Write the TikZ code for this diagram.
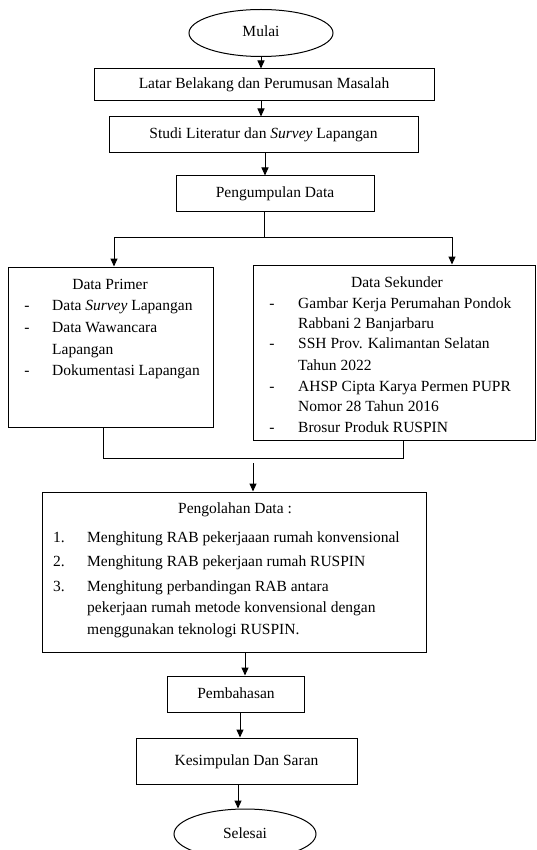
\documentclass[tikz,border=0pt]{standalone}
\usepackage{fontspec}
\setmainfont{Liberation Serif}
\usetikzlibrary{shapes.geometric,arrows.meta}
\begin{document}
\begin{tikzpicture}[x=1pt,y=-1pt,
  every node/.style={font=\fontsize{15.5}{21}\selectfont, inner sep=0pt, text height=11pt, text depth=3pt},
  box/.style={draw, line width=1pt, rectangle},
  oval/.style={draw, line width=1pt, ellipse},
  arr/.style={line width=1pt, -{Triangle[length=8pt,width=7pt]}},
  ln/.style={line width=1pt},
  txt/.style={anchor=west},
  dsh/.style={anchor=center}
]
\useasboundingbox[fill=white] (0,0) rectangle (536,850);

% main boxes
\node[oval, minimum width=144pt, minimum height=47pt] (mulai) at (261,33) {Mulai};
\node[box, minimum width=340pt, minimum height=32pt] (latar) at (264,85) {Latar Belakang dan Perumusan Masalah};
\node[box, minimum width=309pt, minimum height=36pt] (studi) at (263.5,135) {Studi Literatur dan \textit{Survey} Lapangan};
\node[box, minimum width=198pt, minimum height=36pt] (kumpul) at (275,194) {Pengumpulan Data};
\node[box, minimum width=205pt, minimum height=160pt] (primer) at (110.5,347) {};
\node[box, minimum width=282pt, minimum height=175pt] (sekunder) at (394,352.5) {};
\node[box, minimum width=384pt, minimum height=160pt] (olah) at (234,572) {};
\node[box, minimum width=137pt, minimum height=36pt] (bahas) at (236,694) {Pembahasan};
\node[box, minimum width=221pt, minimum height=46pt] (simpul) at (246.5,761) {Kesimpulan Dan Saran};
\node[oval, minimum width=142pt, minimum height=50pt] (selesai) at (245,834) {Selesai};

% Data Primer text
\node (ptitle) at (110,285) {Data Primer};
\node[dsh] (pd1) at (27,306) {-};
\node[txt] (pt1) at (52,306) {Data \textit{Survey} Lapangan};
\node[dsh] (pd2) at (27,328) {-};
\node[txt] (pt2) at (52,328) {Data Wawancara};
\node[txt] (pt2b) at (52,350) {Lapangan};
\node[dsh] (pd3) at (27,371) {-};
\node[txt] (pt3) at (52,371) {Dokumentasi Lapangan};

% Data Sekunder text
\node (stitle) at (397,283) {Data Sekunder};
\node[dsh] (sd1) at (272,304) {-};
\node[txt] (st1) at (298,304) {Gambar Kerja Perumahan Pondok};
\node[txt] (st1b) at (298,324) {Rabbani 2 Banjarbaru};
\node[dsh] (sd2) at (272,344) {-};
\node[txt] (st2) at (298,344) {SSH Prov. Kalimantan Selatan};
\node[txt] (st2b) at (298,366) {Tahun 2022};
\node[dsh] (sd3) at (272,387) {-};
\node[txt] (st3) at (298,387) {AHSP Cipta Karya Permen PUPR};
\node[txt] (st3b) at (298,407) {Nomor 28 Tahun 2016};
\node[dsh] (sd4) at (272,428) {-};
\node[txt] (st4) at (298,428) {Brosur Produk RUSPIN};

% Pengolahan Data text
\node (otitle) at (235,509) {Pengolahan Data :};
\node[txt] (on1) at (53,538) {1.};
\node[txt] (ot1) at (87,538) {Menghitung RAB pekerjaaan rumah konvensional};
\node[txt] (on2) at (53,562) {2.};
\node[txt] (ot2) at (87,562) {Menghitung RAB pekerjaan rumah RUSPIN};
\node[txt] (on3) at (53,587) {3.};
\node[txt] (ot3) at (87,587) {Menghitung perbandingan RAB antara};
\node[txt] (ot3b) at (87,608) {pekerjaan rumah metode konvensional dengan};
\node[txt] (ot3c) at (87,630) {menggunakan teknologi RUSPIN.};

% connectors
\draw[arr] (mulai.south) -- (mulai.south |- latar.north);
\draw[arr] (latar.south -| mulai.south) -- (studi.north -| mulai.south);
\coordinate (c1) at (265,0);
\draw[arr] (studi.south -| c1) -- (kumpul.north -| c1);
\coordinate (split) at (264,237);
\coordinate (lft) at (114,237);
\coordinate (rgt) at (452,237);
\draw[ln] (kumpul.south -| split) -- (split);
\draw[arr] (split) -- (lft) -- (primer.north -| lft);
\draw[arr] (split) -- (rgt) -- (sekunder.north -| rgt);
\coordinate (pj) at (103,458);
\coordinate (sj) at (403,458);
\draw[ln] (primer.south -| pj) -- (pj) -- (sj) -- (sekunder.south -| sj);
\coordinate (m1) at (253,463);
\draw[arr] (m1) -- (olah.north -| m1);
\coordinate (c2) at (245,0);
\draw[arr] (olah.south -| c2) -- (bahas.north -| c2);
\coordinate (c3) at (240,0);
\draw[arr] (bahas.south -| c3) -- (simpul.north -| c3);
\coordinate (c4) at (238,0);
\draw[arr] (simpul.south -| c4) -- (selesai.north -| c4);
\end{tikzpicture}
\end{document}
